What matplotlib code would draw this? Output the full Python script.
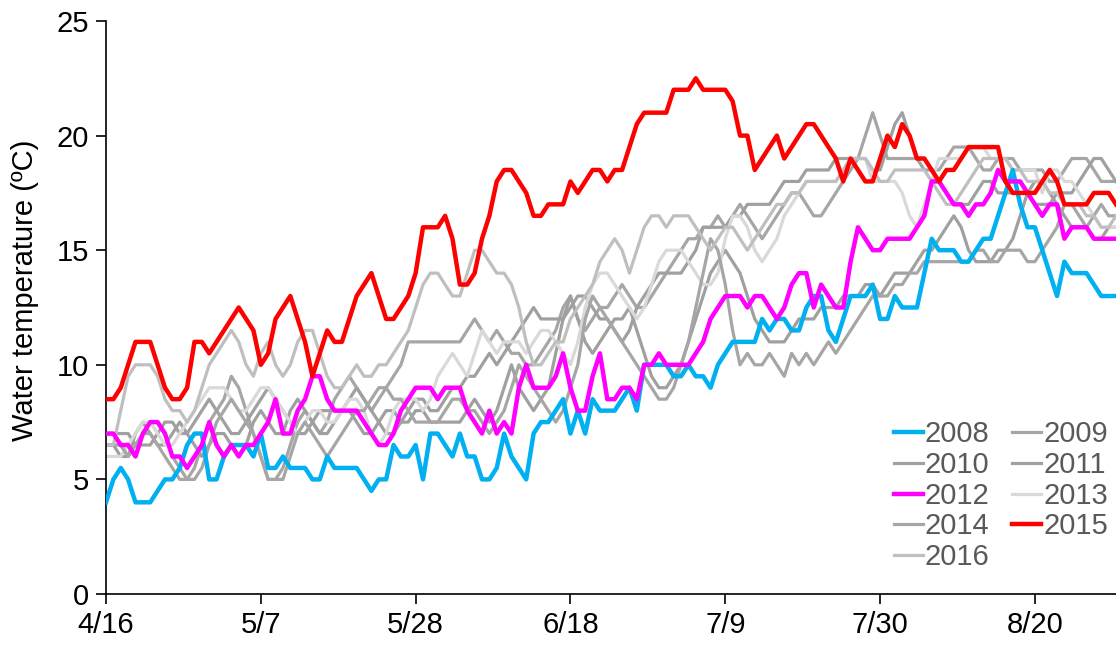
import matplotlib
matplotlib.use("Agg")
import matplotlib.pyplot as plt

plt.rcParams['font.family'] = ['Liberation Sans', 'DejaVu Sans']

tick_pos = [0, 21, 42, 63, 84, 105, 126]
tick_labels = ["4/16", "5/7", "5/28", "6/18", "7/9", "7/30", "8/20"]
y_ticks = [0, 5, 10, 15, 20, 25]

t2008 = [4, 5, 5.5, 5, 4, 4, 4, 4.5, 5, 5,
         5.5, 6.5, 7, 7, 5, 5, 6, 6.5, 6.5, 6.5,
         6, 7, 5.5, 5.5, 6, 5.5, 5.5, 5.5, 5, 5,
         6, 5.5, 5.5, 5.5, 5.5, 5, 4.5, 5, 5, 6.5,
         6, 6, 6.5, 5, 7, 7, 6.5, 6, 7, 6,
         6, 5, 5, 5.5, 7, 6, 5.5, 5, 7, 7.5,
         7.5, 8, 8.5, 7, 8, 7, 8.5, 8, 8, 8,
         8.5, 9, 8, 10, 10, 10, 10, 9.5, 9.5, 10,
         9.5, 9.5, 9, 10, 10.5, 11, 11, 11, 11, 12,
         11.5, 12, 12, 11.5, 11.5, 12.5, 13, 13, 11.5, 11,
         12, 13, 13, 13, 13.5, 12, 12, 13, 12.5, 12.5,
         12.5, 14, 15.5, 15, 15, 15, 14.5, 14.5, 15, 15.5,
         15.5, 16.5, 17.5, 18.5, 17, 16, 16, 15, 14, 13,
         14.5, 14, 14, 14, 13.5, 13, 13, 13]

t2009 = [6.5, 6.5, 6.5, 6, 6.5, 7, 7.5, 7.5, 7, 6,
         5.5, 5, 5.5, 6.5, 7.5, 8, 8.5, 9.5, 9, 8,
         7, 6, 5, 5, 5.5, 6.5, 7.5, 8, 7.5, 7,
         7.5, 8.5, 9, 9.5, 9, 8.5, 8, 8.5, 9, 9.5,
         10, 11, 11, 11, 11, 11, 11, 11, 11, 11.5,
         12, 11.5, 11, 11.5, 11, 10.5, 10.5, 10, 10, 10.5,
         11, 11.5, 12.5, 13, 12, 11.5, 12, 12.5, 12.5, 13,
         13.5, 13, 12.5, 12.5, 13, 13.5, 14, 14.5, 15, 15.5,
         15.5, 16, 16, 16.5, 16, 16.5, 17, 16.5, 16, 15.5,
         16, 16.5, 17, 17.5, 17.5, 17, 16.5, 16.5, 17, 17.5,
         18, 18.5, 19, 20, 21, 20, 19, 19, 19, 19,
         19, 19, 18.5, 18.5, 19, 19.5, 19.5, 19.5, 19, 18.5,
         18.5, 19, 19, 19, 18.5, 18.5, 18.5, 18.5, 18, 18,
         18.5, 19, 19, 19, 18.5, 18, 18, 18]

t2010 = [7, 7, 7, 7, 6.5, 6.5, 6.5, 7, 7.5, 7.5,
         7, 7, 7.5, 8, 8.5, 8, 7.5, 7, 7, 7.5,
         8, 8.5, 9, 8.5, 8, 7.5, 7, 7, 7.5, 8,
         8, 8, 8, 8.5, 9, 8.5, 8, 7.5, 7, 7,
         7.5, 8, 8.5, 8.5, 8, 8, 8.5, 9, 9, 9.5,
         9.5, 10, 10.5, 10, 10.5, 11, 11.5, 12, 12.5, 12,
         12, 12, 12, 12.5, 13, 13, 12.5, 12, 12, 11.5,
         11, 11.5, 12.5, 13, 13.5, 14, 14, 14, 14, 14.5,
         15, 16, 16, 16, 16, 16.5, 16.5, 17, 17, 17,
         17, 17.5, 18, 18, 18, 18.5, 18.5, 18.5, 18.5, 19,
         19, 19, 19, 19, 18.5, 18.5, 19.5, 20.5, 21, 20,
         19, 18.5, 18.5, 18, 17.5, 17, 17, 17, 17.5, 18,
         18, 17.5, 17.5, 17.5, 17.5, 17.5, 17, 17, 17, 17.5,
         17.5, 17.5, 18, 18.5, 19, 19, 18.5, 18]

t2011 = [6.5, 6.5, 6, 6, 7, 7.5, 7, 6.5, 6.5, 7,
         7.5, 7, 6.5, 6, 6.5, 7, 7, 6.5, 6, 6.5,
         7.5, 8, 7.5, 7, 7, 8, 8.5, 8, 7.5, 7,
         7, 7.5, 8, 8, 7.5, 7, 7, 7.5, 8, 8,
         7.5, 7.5, 8, 8, 7.5, 7.5, 7.5, 7.5, 7.5, 8,
         8.5, 8, 7.5, 8, 9, 10, 9, 8.5, 8, 8.5,
         9, 10.5, 12, 13, 12, 11, 10.5, 11, 11.5, 12,
         12, 12.5, 11.5, 10.5, 9.5, 9, 9, 9.5, 10, 11,
         12, 13, 14, 14.5, 15, 14.5, 14, 13, 12, 11.5,
         11, 11, 11, 11.5, 12, 12, 12, 12.5, 12.5, 12.5,
         13, 13, 13, 13.5, 13.5, 13, 13.5, 14, 14, 14,
         14.5, 15, 15, 15.5, 16, 16.5, 16, 15, 14.5, 14.5,
         14.5, 15, 15, 15.5, 16.5, 17.5, 18, 18, 17.5, 17,
         16.5, 16, 16, 16, 15.5, 15.5, 16, 16]

t2012 = [7, 7, 6.5, 6.5, 6, 7, 7.5, 7.5, 7, 6,
         6, 5.5, 6, 6.5, 7.5, 6.5, 6, 6.5, 6, 6.5,
         6.5, 7, 7.5, 8.5, 7, 7, 8, 8.5, 9.5, 9.5,
         8.5, 8, 8, 8, 8, 7.5, 7, 6.5, 6.5, 7,
         8, 8.5, 9, 9, 9, 8.5, 9, 9, 9, 8,
         7.5, 7, 8, 7, 7.5, 7, 9, 10, 9, 9,
         9, 9.5, 10.5, 9, 8, 8, 9.5, 10.5, 8.5, 8.5,
         9, 9, 8.5, 10, 10, 10.5, 10, 10, 10, 10,
         10.5, 11, 12, 12.5, 13, 13, 13, 12.5, 13, 13,
         12.5, 12, 12.5, 13.5, 14, 14, 12.5, 13.5, 13, 12.5,
         12.5, 14.5, 16, 15.5, 15, 15, 15.5, 15.5, 15.5, 15.5,
         16, 16.5, 18, 18, 17.5, 17, 17, 16.5, 17, 17,
         17.5, 18.5, 18, 18, 18, 17.5, 17, 16.5, 17, 17,
         15.5, 16, 16, 16, 15.5, 15.5, 15.5, 15.5]

t2013 = [6, 6, 6, 6.5, 7, 7.5, 7.5, 7, 6.5, 6.5,
         7, 7.5, 8, 8.5, 9, 9, 9, 8.5, 8, 8,
         8.5, 9, 9, 8.5, 8, 7.5, 7, 7.5, 8, 8,
         7.5, 7.5, 8, 8.5, 8.5, 8, 7, 6.5, 7, 8,
         8.5, 8.5, 8.5, 8, 8.5, 9.5, 10, 10.5, 10, 9.5,
         10.5, 11.5, 11, 10.5, 11, 11, 11, 10.5, 11, 11.5,
         11.5, 11, 10.5, 10, 11, 12.5, 13.5, 14, 14, 13.5,
         13, 12.5, 12, 12.5, 13.5, 14.5, 15, 15, 15, 14.5,
         14, 13.5, 13.5, 14, 15.5, 16.5, 16.5, 16, 15, 14.5,
         15, 15.5, 16.5, 17, 17.5, 18, 18, 18, 18, 18,
         18.5, 19, 19, 19, 18, 18, 18, 18, 17.5, 16.5,
         16, 17, 18, 19, 19, 19, 19, 19.5, 19.5, 19.5,
         19, 19, 19, 18.5, 18.5, 18.5, 18.5, 17.5, 18.5, 18.5,
         18, 18, 17.5, 17, 16.5, 16, 16, 16]

t2014 = [7, 7, 6.5, 6, 6.5, 7, 7, 6.5, 6, 5.5,
         5, 5, 5, 5.5, 6.5, 7.5, 8, 8.5, 8, 7.5,
         7, 6, 5, 5, 5, 6, 7, 7.5, 7, 6.5,
         6, 6.5, 7, 7.5, 8, 8, 8.5, 9, 9, 8.5,
         8.5, 8, 7.5, 7.5, 7.5, 7.5, 8, 8.5, 8.5, 8,
         8, 7.5, 7, 7.5, 8, 9, 10, 9.5, 9, 8.5,
         8, 7.5, 8, 9, 10, 12, 13, 12.5, 12, 11.5,
         11, 10.5, 10, 9.5, 9, 8.5, 8.5, 9, 10, 11,
         12.5, 14, 15.5, 15, 13.5, 11.5, 10, 10.5, 10, 10,
         10.5, 10, 9.5, 10.5, 10, 10.5, 10, 10.5, 11, 10.5,
         11, 11.5, 12, 12.5, 13, 13, 13, 13.5, 13.5, 14,
         14, 14.5, 14.5, 14.5, 14.5, 14.5, 14.5, 14.5, 15, 15,
         14.5, 14.5, 15, 15, 15, 14.5, 14.5, 15, 15.5, 16,
         17, 17, 16.5, 16, 16.5, 17, 16.5, 16.5]

t2015 = [8.5, 8.5, 9, 10, 11, 11, 11, 10, 9, 8.5,
         8.5, 9, 11, 11, 10.5, 11, 11.5, 12, 12.5, 12,
         11.5, 10, 10.5, 12, 12.5, 13, 12, 11, 9.5, 10.5,
         11.5, 11, 11, 12, 13, 13.5, 14, 13, 12, 12,
         12.5, 13, 14, 16, 16, 16, 16.5, 15.5, 13.5, 13.5,
         14, 15.5, 16.5, 18, 18.5, 18.5, 18, 17.5, 16.5, 16.5,
         17, 17, 17, 18, 17.5, 18, 18.5, 18.5, 18, 18.5,
         18.5, 19.5, 20.5, 21, 21, 21, 21, 22, 22, 22,
         22.5, 22, 22, 22, 22, 21.5, 20, 20, 18.5, 19,
         19.5, 20, 19, 19.5, 20, 20.5, 20.5, 20, 19.5, 19,
         18, 19, 18.5, 18, 18, 19, 20, 19.5, 20.5, 20,
         19, 19, 18.5, 18, 18.5, 18.5, 19, 19.5, 19.5, 19.5,
         19.5, 19.5, 18, 17.5, 17.5, 17.5, 17.5, 18, 18.5, 18,
         17, 17, 17, 17, 17.5, 17.5, 17.5, 17]

t2016 = [6.5, 6.5, 8, 9.5, 10, 10, 10, 9.5, 8.5, 8,
         8, 7.5, 8, 9, 10, 10.5, 11, 11.5, 11, 10,
         9.5, 10.5, 11, 10, 9.5, 10, 11, 11.5, 11.5, 10.5,
         9.5, 9, 9, 9.5, 10, 9.5, 9.5, 10, 10, 10.5,
         11, 11.5, 12.5, 13.5, 14, 14, 13.5, 13, 13, 14,
         15, 15, 14.5, 14, 14, 13.5, 12.5, 11, 10, 10,
         10.5, 11, 11, 12, 12.5, 13, 13.5, 14.5, 15, 15.5,
         15, 14, 15, 16, 16.5, 16.5, 16, 16.5, 16.5, 16.5,
         16, 15.5, 15, 15.5, 16, 16, 15.5, 15, 15.5, 16,
         16.5, 17, 17, 17.5, 17.5, 18, 18, 18, 18, 18,
         18.5, 19, 19, 19, 18.5, 18, 18, 18.5, 18.5, 18.5,
         18.5, 18.5, 18, 17.5, 17, 17, 17.5, 18, 18.5, 19,
         19, 19, 19, 18.5, 18.5, 18, 18, 18, 17.5, 17.5,
         17, 17, 17, 16.5, 16.5, 16, 16, 16.5]

years = ["2008", "2009", "2010", "2011", "2012", "2013", "2014", "2015", "2016"]
series = [t2008, t2009, t2010, t2011, t2012, t2013, t2014, t2015, t2016]
colors = {"2008": "#00B0F0", "2009": "#A6A6A6", "2010": "#A0A0A0", "2011": "#A0A0A0",
          "2012": "#FF00FF", "2013": "#D9D9D9", "2014": "#A6A6A6", "2015": "#FF0000",
          "2016": "#BFBFBF"}
widths = {"2008": 3.2, "2012": 3.2, "2015": 3.2}
zorders = {"2008": 5, "2012": 6, "2015": 7}

fig = plt.figure(figsize=(11.16, 6.45), dpi=100)
ax = fig.add_axes([106 / 1116, 1 - 594 / 645, 1 - 106 / 1116, (594 - 21) / 645])

handles = {}
for yr, vals in zip(years, series):
    days = list(range(len(vals)))
    ln, = ax.plot(days, vals, color=colors[yr], lw=widths.get(yr, 2.3),
                  zorder=zorders.get(yr, 2), solid_joinstyle='round', label=yr)
    handles[yr] = ln

ax.set_xlim(0, 137)
ax.set_ylim(0, 25)
ax.set_xticks(tick_pos)
ax.set_xticklabels(tick_labels)
ax.set_yticks(y_ticks)
for s in ["top", "right"]:
    ax.spines[s].set_visible(False)
for s in ["left", "bottom"]:
    ax.spines[s].set_linewidth(1.2)
    ax.spines[s].set_color("black")
ax.tick_params(axis='both', direction='out', length=7, width=1.2, labelsize=21,
               colors='black', pad=5)
ax.set_ylabel("Water temperature (ºC)", fontsize=21)
ax.yaxis.set_label_coords(-0.066, 0.53)

order = ["2008", "2010", "2012", "2014", "2016", "2009", "2011", "2013", "2015"]
leg = ax.legend([handles[y] for y in order], order, ncol=2, frameon=False,
                fontsize=21, loc='upper left', bbox_to_anchor=(876 / 1116, 1 - 403 / 645),
                bbox_transform=fig.transFigure, handlelength=1.0, handletextpad=0.08,
                columnspacing=0.75, labelspacing=0.09, borderpad=0.1)
for t in leg.get_texts():
    t.set_color("#595959")

fig.savefig("out.png", dpi=100)
